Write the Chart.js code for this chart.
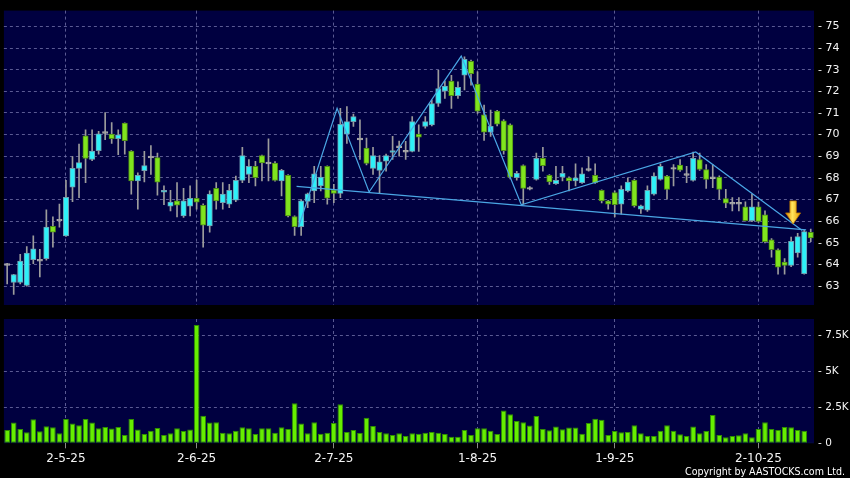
<!DOCTYPE html>
<html>
<head>
<meta charset="utf-8">
<title>Price and volume</title>
<script src="https://cdn.jsdelivr.net/npm/chart.js@4.4.1/dist/chart.umd.min.js"></script>
<style>
  html, body { margin: 0; padding: 0; background: #000; }
  #wrap { position: relative; width: 850px; height: 478px; }
  #wrap canvas { position: absolute; left: 0; top: 0; }
</style>
</head>
<body>
<div id="wrap">
  <canvas id="price-chart" width="850" height="478"></canvas>
  <canvas id="volume-chart" width="850" height="478"></canvas>
</div>
<script>
// Trading days (d-m-yy)
var dates = [
  '16-4-25','17-4-25','22-4-25','23-4-25','24-4-25','25-4-25','28-4-25','29-4-25','30-4-25',
  '2-5-25','6-5-25','7-5-25','8-5-25','9-5-25','12-5-25','13-5-25','14-5-25','15-5-25','16-5-25',
  '19-5-25','20-5-25','21-5-25','22-5-25','23-5-25','26-5-25','27-5-25','28-5-25','29-5-25','30-5-25',
  '2-6-25','3-6-25','4-6-25','5-6-25','6-6-25','9-6-25','10-6-25','11-6-25','12-6-25','13-6-25',
  '16-6-25','17-6-25','18-6-25','19-6-25','20-6-25','23-6-25','24-6-25','25-6-25','26-6-25','27-6-25','30-6-25',
  '2-7-25','3-7-25','4-7-25','7-7-25','8-7-25','9-7-25','10-7-25','11-7-25','14-7-25','15-7-25','16-7-25',
  '17-7-25','18-7-25','21-7-25','22-7-25','23-7-25','24-7-25','25-7-25','28-7-25','29-7-25','30-7-25','31-7-25',
  '1-8-25','4-8-25','5-8-25','6-8-25','7-8-25','8-8-25','11-8-25','12-8-25','13-8-25','14-8-25','15-8-25',
  '18-8-25','19-8-25','20-8-25','21-8-25','22-8-25','25-8-25','26-8-25','27-8-25','28-8-25','29-8-25',
  '1-9-25','2-9-25','3-9-25','4-9-25','5-9-25','8-9-25','9-9-25','10-9-25','11-9-25','12-9-25','15-9-25',
  '16-9-25','17-9-25','18-9-25','19-9-25','22-9-25','23-9-25','24-9-25','25-9-25','26-9-25','29-9-25','30-9-25',
  '2-10-25','3-10-25','6-10-25','8-10-25','9-10-25','10-10-25','13-10-25','14-10-25','15-10-25'
];

var openP = [
  64.00, 63.17, 63.17, 63.03, 64.22, 64.20, 64.27, 65.76, 66.05, 65.32,
  67.57, 68.44, 69.95, 68.85, 69.26, 70.10, 70.02, 69.81, 70.53, 69.24,
  67.86, 68.33, 68.97, 68.94, 67.34, 66.70, 66.94, 66.24, 66.70, 67.06,
  66.74, 65.78, 67.52, 66.86, 66.79, 66.97, 67.89, 68.16, 68.54, 69.03,
  68.69, 68.69, 67.86, 68.12, 66.21, 65.75, 66.91, 67.40, 67.63, 68.54,
  67.44, 67.29, 70.02, 70.60, 69.80, 69.38, 68.44, 68.35, 68.77, 69.18,
  69.44, 69.23, 69.23, 70.02, 70.38, 70.45, 71.44, 72.01, 72.47, 71.80,
  72.75, 73.39, 72.33, 70.91, 70.11, 71.09, 70.64, 70.45, 68.01, 68.57,
  67.52, 67.93, 68.90, 68.12, 67.73, 68.04, 68.01, 67.86, 67.78, 68.39,
  68.12, 67.43, 66.94, 67.32, 66.79, 67.40, 67.89, 66.56, 66.51, 67.25,
  67.93, 68.08, 68.44, 68.59, 68.16, 67.89, 68.85, 68.39, 68.01, 68.04,
  67.05, 66.83, 66.83, 66.66, 66.02, 66.66, 66.30, 65.14, 64.68, 64.11,
  63.96, 64.54, 63.58, 65.49
];
var highP = [
  64.05, 63.55, 64.47, 64.83, 65.32, 64.70, 66.53, 66.20, 66.79, 67.89,
  68.99, 69.56, 70.22, 70.22, 70.15, 71.02, 70.56, 70.22, 70.55, 69.26,
  68.24, 69.23, 69.49, 69.15, 67.63, 67.43, 67.78, 67.52, 67.63, 67.90,
  66.80, 67.40, 67.78, 67.78, 67.70, 68.08, 69.41, 68.85, 68.77, 69.05,
  69.81, 68.75, 68.40, 68.15, 66.25, 67.00, 67.30, 68.54, 68.54, 68.56,
  67.70, 71.21, 71.30, 70.95, 70.68, 69.84, 69.41, 69.03, 69.10, 69.92,
  69.70, 69.69, 70.83, 70.45, 70.83, 71.60, 72.97, 72.47, 72.74, 72.44,
  73.60, 73.45, 72.90, 71.37, 71.14, 71.12, 70.70, 70.50, 68.30, 68.60,
  67.60, 69.15, 69.41, 68.15, 68.54, 68.54, 68.05, 68.65, 68.47, 68.96,
  68.65, 67.45, 66.96, 67.40, 67.63, 68.01, 67.95, 66.75, 67.63, 68.24,
  68.65, 68.12, 68.62, 68.85, 68.54, 69.20, 69.15, 68.62, 68.62, 68.10,
  67.47, 67.09, 67.09, 66.90, 67.25, 66.89, 66.48, 65.20, 64.72, 64.27,
  65.27, 65.44, 65.60, 65.64
];
var lowP = [
  63.10, 62.62, 63.10, 63.00, 64.04, 63.43, 64.20, 64.80, 65.72, 65.30,
  66.90, 67.09, 67.78, 68.80, 69.10, 69.77, 69.60, 69.08, 69.10, 67.25,
  66.56, 67.81, 68.16, 67.20, 66.76, 66.48, 66.20, 66.18, 66.25, 66.56,
  64.80, 65.49, 66.56, 66.56, 66.63, 66.90, 67.78, 67.78, 67.63, 67.86,
  67.86, 67.85, 67.17, 66.20, 65.34, 65.34, 66.63, 66.86, 67.40, 66.79,
  66.86, 67.09, 69.60, 70.38, 68.85, 68.60, 68.16, 67.32, 68.31, 68.85,
  69.00, 68.85, 69.20, 69.23, 70.30, 70.40, 71.30, 71.67, 71.21, 71.67,
  72.06, 72.29, 70.98, 69.73, 69.92, 70.40, 69.10, 67.95, 67.90, 66.79,
  67.45, 67.90, 68.31, 67.70, 67.70, 67.86, 67.40, 67.63, 67.75, 68.31,
  67.75, 66.85, 66.56, 66.20, 66.33, 67.35, 66.65, 66.36, 66.45, 67.20,
  67.90, 67.02, 67.63, 68.30, 67.78, 67.85, 68.35, 67.52, 67.55, 67.02,
  66.63, 66.48, 66.48, 66.00, 65.98, 65.95, 65.00, 64.34, 63.55, 63.55,
  63.90, 64.34, 63.55, 65.06
];
var closeP = [
  64.00, 63.54, 64.16, 64.53, 64.73, 64.20, 65.73, 65.49, 66.05, 67.10,
  68.44, 68.71, 68.90, 69.24, 70.04, 70.10, 69.81, 69.99, 69.72, 67.86,
  68.12, 68.57, 68.97, 67.80, 67.43, 66.88, 66.74, 66.94, 67.06, 66.88,
  65.82, 67.25, 66.94, 67.25, 67.43, 67.89, 69.03, 68.54, 68.01, 68.69,
  68.69, 67.89, 68.35, 66.25, 65.75, 66.94, 67.27, 68.19, 68.04, 67.06,
  67.29, 70.48, 70.60, 70.83, 69.80, 68.67, 69.03, 68.74, 69.03, 69.26,
  69.44, 69.23, 70.60, 69.88, 70.60, 71.44, 72.13, 72.24, 71.80, 72.18,
  73.48, 72.82, 71.08, 70.11, 70.38, 70.48, 69.26, 68.03, 68.21, 67.52,
  67.52, 68.90, 68.57, 67.81, 67.89, 68.21, 67.86, 68.01, 68.19, 68.39,
  67.78, 66.94, 66.79, 66.76, 67.47, 67.81, 66.71, 66.71, 67.43, 68.08,
  68.54, 67.47, 68.44, 68.36, 68.16, 68.90, 68.39, 67.93, 68.01, 67.47,
  66.83, 66.83, 66.83, 66.02, 66.66, 65.99, 65.06, 64.69, 63.88, 63.96,
  65.07, 65.29, 65.52, 65.23
];
var volume = [
  930, 1440, 1000, 760, 1670, 830, 1180, 1110, 690, 1690,
  1370, 1250, 1690, 1440, 1040, 1130, 1020, 1130, 580, 1690,
  950, 650, 880, 1060, 580, 690, 1040, 860, 950, 8220,
  1920, 1440, 1460, 740, 690, 880, 1110, 1040, 650, 1040,
  1040, 740, 1110, 1000, 2780, 1370, 690, 1460, 670, 740,
  1410, 2710, 790, 930, 720, 1780, 1200, 790, 690, 580,
  690, 510, 690, 670, 740, 790, 740, 650, 460, 460,
  930, 580, 1040, 1040, 880, 650, 2270, 2010, 1550, 1460,
  1230, 1900, 1000, 900, 1160, 970, 1090, 1090, 670, 1410,
  1710, 1640, 580, 860, 760, 790, 1250, 690, 510, 510,
  880, 1250, 880, 630, 510, 1160, 690, 860, 1970, 580,
  420, 510, 560, 690, 420, 1000, 1460, 1000, 930, 1130,
  1110, 930, 880, 50
];

var monthTicks = ['2-5-25', '2-6-25', '2-7-25', '1-8-25', '1-9-25', '2-10-25'];
var priceTicks = [63, 64, 65, 66, 67, 68, 69, 70, 71, 72, 73, 74, 75];
var volumeTicks = [0, 2500, 5000, 7500];

// drawn pattern lines: [bar index, price]
var zigzag = [[44.6, 65.72], [50.5, 71.22], [55.4, 67.35], [69.5, 73.63], [78.7, 66.76], [105.4, 69.20], [121.7, 65.57]];
var neckline = [[44.3, 67.61], [122.3, 65.60]];
var arrowMark = { x: 120.3, top: 66.94, tip: 65.87 };

var navy = '#000040';
var gridColor = 'rgba(120,120,175,0.75)';
var lineColor = '#4aa6e4';

Chart.defaults.font.family = "'DejaVu Sans', Verdana, sans-serif";
Chart.defaults.font.size = 11;
Chart.defaults.color = '#f4f4f4';
Chart.defaults.animation = false;

function candleKind(i) {
  var d = closeP[i] - openP[i];
  if (Math.abs(d) < 0.02) return 'flat';
  return d > 0 ? 'up' : 'down';
}
var fills = { up: '#2ef0f8', down: '#80e41e', flat: '#a8a8a8' };
var edges = { up: '#6f9fb0', down: '#4e8e14', flat: '#a8a8a8' };

var bodies = openP.map(function (o, i) {
  if (candleKind(i) === 'flat') return [o - 0.04, o + 0.04];
  return [o, closeP[i]];
});
var wicks = lowP.map(function (l, i) { return [l, highP[i]]; });

function keepMonthTicks(scale) {
  scale.ticks = scale.ticks.filter(function (t) {
    return monthTicks.indexOf(dates[t.value]) !== -1;
  });
}

var panelBg = {
  id: 'panelBg',
  beforeDraw: function (chart) {
    var a = chart.chartArea, ctx = chart.ctx;
    ctx.save();
    ctx.fillStyle = navy;
    ctx.fillRect(a.left, a.top, a.right - a.left, a.bottom - a.top);
    ctx.restore();
  }
};

var arrowPlugin = {
  id: 'arrowMark',
  afterDatasetsDraw: function (chart) {
    var ctx = chart.ctx;
    var cx = chart.scales.xl.getPixelForValue(arrowMark.x);
    var top = chart.scales.y.getPixelForValue(arrowMark.top);
    var tip = chart.scales.y.getPixelForValue(arrowMark.tip);
    var neck = top + (tip - top) * 0.52;
    ctx.save();
    var g = ctx.createLinearGradient(cx - 7, 0, cx + 7, 0);
    g.addColorStop(0, '#e08a00');
    g.addColorStop(0.45, '#ffe45c');
    g.addColorStop(1, '#e59a00');
    ctx.beginPath();
    ctx.moveTo(cx - 3.2, top);
    ctx.lineTo(cx + 3.2, top);
    ctx.lineTo(cx + 3.2, neck);
    ctx.lineTo(cx + 7.5, neck);
    ctx.lineTo(cx, tip);
    ctx.lineTo(cx - 7.5, neck);
    ctx.lineTo(cx - 3.2, neck);
    ctx.closePath();
    ctx.fillStyle = g;
    ctx.fill();
    ctx.strokeStyle = '#b87400';
    ctx.lineWidth = 0.8;
    ctx.stroke();
    ctx.restore();
  }
};

var copyright = {
  id: 'copyright',
  afterDraw: function (chart) {
    var ctx = chart.ctx;
    ctx.save();
    ctx.font = "11px 'DejaVu Sans', Verdana, sans-serif";
    ctx.fillStyle = '#ffffff';
    ctx.textAlign = 'right';
    ctx.textBaseline = 'alphabetic';
    ctx.fillText('Copyright by AASTOCKS.com Ltd.', 845, 475, 160);
    ctx.restore();
  }
};

// Price chart: candles built from floating bars
new Chart(document.getElementById('price-chart'), {
  type: 'bar',
  data: {
    labels: dates,
    datasets: [
      {
        type: 'line', xAxisID: 'xl', yAxisID: 'y', order: 0,
        data: zigzag.map(function (p) { return { x: p[0], y: p[1] }; }),
        borderColor: lineColor, borderWidth: 1.2, pointRadius: 0, tension: 0
      },
      {
        type: 'line', xAxisID: 'xl', yAxisID: 'y', order: 0,
        data: neckline.map(function (p) { return { x: p[0], y: p[1] }; }),
        borderColor: lineColor, borderWidth: 1.2, pointRadius: 0, tension: 0
      },
      {
        label: 'body', order: 1, grouped: false,
        data: bodies,
        backgroundColor: function (c) { return c.dataIndex === undefined ? fills.up : fills[candleKind(c.dataIndex)]; },
        borderColor: function (c) { return c.dataIndex === undefined ? edges.up : edges[candleKind(c.dataIndex)]; },
        borderWidth: 1, borderSkipped: false, barThickness: 5.4
      },
      {
        label: 'wick', order: 2, grouped: false,
        data: wicks,
        backgroundColor: '#9c9c9c', borderWidth: 0, barThickness: 1
      }
    ]
  },
  options: {
    responsive: false,
    layout: { padding: { left: 3.9, top: 8, right: 0, bottom: 173 } },
    scales: {
      x: {
        afterBuildTicks: keepMonthTicks,
        afterFit: function (s) { s.height = 0; },
        ticks: { display: false, autoSkip: false },
        grid: { offset: false, drawTicks: false, color: gridColor },
        border: { display: false, dash: [3, 3] }
      },
      xl: {
        type: 'linear', display: false, offset: false, min: -0.5, max: 123.5,
        grid: { offset: false }
      },
      y: {
        position: 'right', min: 62.13, max: 75.73,
        afterBuildTicks: function (s) { s.ticks = priceTicks.map(function (v) { return { value: v }; }); },
        afterFit: function (s) { s.width = 36; },
        ticks: { padding: 4, callback: function (v) { return '- ' + v; } },
        grid: { drawTicks: false, color: gridColor },
        border: { display: false, dash: [3, 3] }
      }
    },
    plugins: { legend: { display: false }, tooltip: { enabled: false } }
  },
  plugins: [panelBg, arrowPlugin]
});

// Volume chart
new Chart(document.getElementById('volume-chart'), {
  type: 'bar',
  data: {
    labels: dates,
    datasets: [{
      data: volume,
      backgroundColor: '#66ee00',
      borderColor: '#2f8f00',
      borderWidth: 1,
      borderSkipped: false,
      barPercentage: 0.87,
      categoryPercentage: 1
    }]
  },
  options: {
    responsive: false,
    layout: { padding: { left: 3.9, top: 319, right: 0, bottom: 0 } },
    scales: {
      x: {
        afterBuildTicks: keepMonthTicks,
        afterFit: function (s) { s.height = 34.7; },
        ticks: { autoSkip: false, maxRotation: 0, padding: 3, font: { size: 12 } },
        grid: { offset: false, color: gridColor, tickLength: 5, tickColor: '#8a8a8a', tickBorderDash: [] },
        border: { display: false, dash: [3, 3] }
      },
      y: {
        position: 'right', min: 0, max: 8630,
        afterBuildTicks: function (s) { s.ticks = volumeTicks.map(function (v) { return { value: v }; }); },
        afterFit: function (s) { s.width = 36; },
        ticks: {
          padding: 4,
          font: { size: 10.5 },
          callback: function (v) { return v === 0 ? '- 0' : '- ' + (v / 1000) + 'K'; }
        },
        grid: {
          drawTicks: false,
          color: function (c) { return c.tick && c.tick.value === 0 ? 'rgba(0,0,0,0)' : gridColor; }
        },
        border: { display: false, dash: [3, 3] }
      }
    },
    plugins: { legend: { display: false }, tooltip: { enabled: false } }
  },
  plugins: [panelBg, copyright]
});
</script>
</body>
</html>
